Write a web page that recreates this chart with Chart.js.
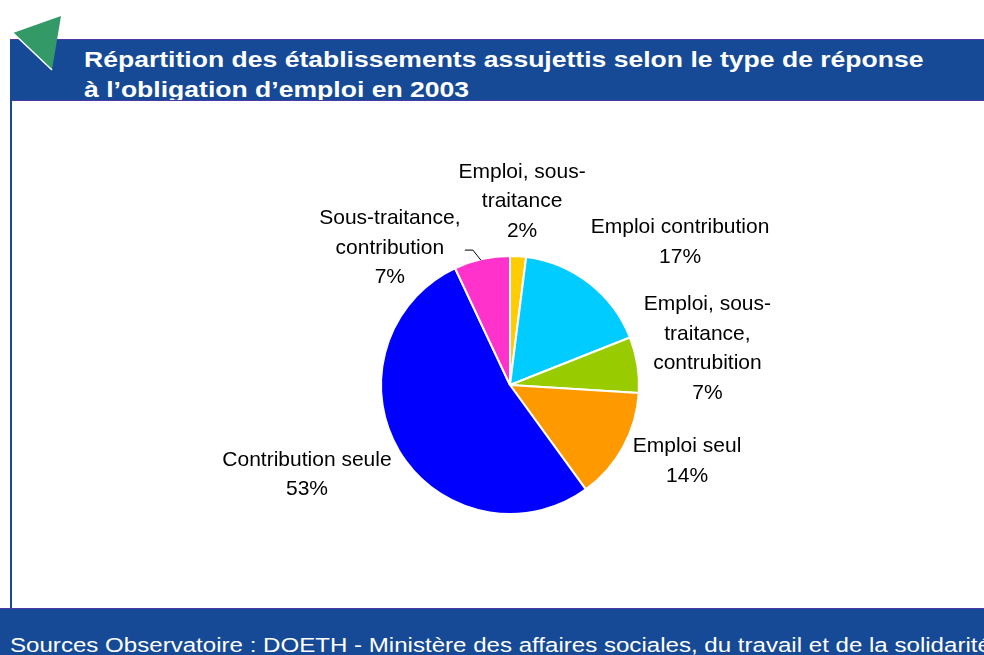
<!DOCTYPE html>
<html>
<head>
<meta charset="utf-8">
<script src="https://cdn.jsdelivr.net/npm/chart.js@4"></script>
<style>
  html, body { margin: 0; padding: 0; background: #fff; }
  body { width: 984px; height: 655px; position: relative; overflow: hidden; font-family: 'Liberation Sans', Arial, sans-serif; }
  .banner { position: absolute; left: 10px; top: 39px; width: 980px; height: 60px; background: #164a96; border-top: 1px solid #4b3aa6; border-bottom: 1px solid #4b3aa6; overflow: hidden; }
  .title { position: absolute; left: 74px; top: 5px; color: #fff; font-weight: bold; font-size: 22.5px; line-height: 30px; white-space: nowrap; transform: scaleX(1.18); transform-origin: 0 0; }
  .leftline { position: absolute; left: 10px; top: 100px; width: 2px; height: 508px; background: #164a96; }
  .footer { position: absolute; left: 0; top: 608px; width: 984px; height: 47px; background: #164a96; border-top: 1px solid #4b3aa6; overflow: hidden; }
  .footer span { position: absolute; left: 10px; top: 24px; color: #fff; font-size: 20.5px; white-space: nowrap; transform: scaleX(1.175); transform-origin: 0 0; }
  svg.tri { position: absolute; left: 0; top: 0; }
  #chart { position: absolute; left: 0; top: 0; }
</style>
</head>
<body>
<div class="banner"><div class="title">Répartition des établissements assujettis selon le type de réponse<br>à l’obligation d’emploi en 2003</div></div>
<svg class="tri" width="70" height="80"><polygon points="13,33 61,16 52,70" fill="#339966"/><line x1="13" y1="33" x2="52" y2="70" stroke="#fff" stroke-width="1.5"/></svg>
<div class="leftline"></div>
<div class="footer"><span>Sources Observatoire : DOETH - Ministère des affaires sociales, du travail et de la solidarité</span></div>
<canvas id="chart" width="984" height="655"></canvas>
<script>
  const categories = [
    ['Emploi, sous-', 'traitance'],
    ['Emploi contribution'],
    ['Emploi, sous-', 'traitance,', 'contrubition'],
    ['Emploi seul'],
    ['Contribution seule'],
    ['Sous-traitance,', 'contribution']
  ];
  const values = [2, 17, 7, 14, 53, 7];
  const colors = ['#ffcc00', '#00ccff', '#99cc00', '#ff9900', '#0000ff', '#ff33cc'];

  // where each label sits, relative to the slice's outer edge
  const labelOffsets = [[4, -55], [91, -41], [70, -16], [64, 14], [-92, 24], [-92, -11]];

  const pieLabels = {
    id: 'pieLabels',
    afterDraw(chart) {
      const ctx = chart.ctx;
      const arcs = chart.getDatasetMeta(0).data;
      ctx.save();
      ctx.font = '21px "Liberation Sans", Arial, sans-serif';
      ctx.fillStyle = '#000';
      ctx.textAlign = 'center';
      ctx.textBaseline = 'middle';
      arcs.forEach((arc, i) => {
        const mid = (arc.startAngle + arc.endAngle) / 2;
        const ax = arc.x + Math.cos(mid) * arc.outerRadius;
        const ay = arc.y + Math.sin(mid) * arc.outerRadius;
        const cx = ax + labelOffsets[i][0];
        const cy = ay + labelOffsets[i][1];
        const lines = categories[i].concat([values[i] + '%']);
        const lh = 29.5;
        lines.forEach((t, j) => {
          ctx.fillText(t, cx, cy + (j - (lines.length - 1) / 2) * lh);
        });
        if (i === 5) {
          // small leader line
          ctx.strokeStyle = '#000';
          ctx.lineWidth = 1;
          ctx.beginPath();
          ctx.moveTo(ax - 1, ay + 1);
          ctx.lineTo(ax - 9, ay - 9);
          ctx.lineTo(ax - 17, ay - 9);
          ctx.stroke();
        }
      });
      ctx.restore();
    }
  };

  new Chart(document.getElementById('chart'), {
    type: 'pie',
    data: {
      labels: categories.map(c => c.join(' ')),
      datasets: [{
        data: values,
        backgroundColor: colors,
        borderColor: '#fff',
        borderWidth: 2
      }]
    },
    options: {
      responsive: false,
      animation: false,
      layout: { padding: { left: 380, right: 344, top: 255, bottom: 140 } },
      plugins: {
        legend: { display: false },
        tooltip: { enabled: false }
      }
    },
    plugins: [pieLabels]
  });
</script>
</body>
</html>
